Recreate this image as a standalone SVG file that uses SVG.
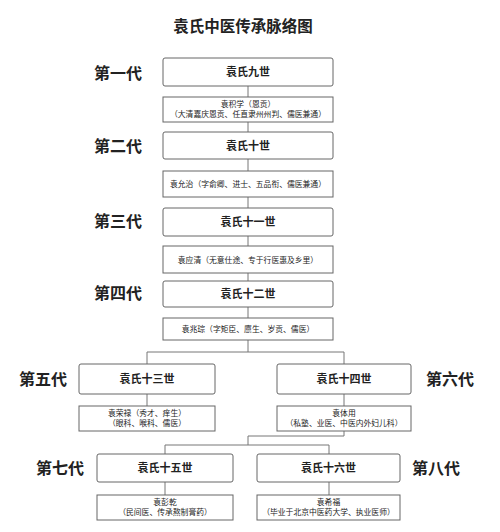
<svg xmlns="http://www.w3.org/2000/svg" width="500" height="532" viewBox="0 0 500 532">
<style>
.bg{fill:#ffffff}
.box{fill:#ffffff;stroke:#666666;stroke-width:1}
.t{font-family:"Liberation Sans","Noto Sans CJK SC",sans-serif;fill:#222222;text-anchor:middle}
.title{font-size:15.5px;font-weight:bold}
.gen{font-size:16px;font-weight:bold}
.name{font-size:11px;font-weight:bold}
.sub{font-size:7.8px}
.ln{fill:none;stroke:#777777;stroke-width:1}
</style>
<rect class="bg" x="0" y="0" width="500" height="532"/>
<text class="t title" x="243" y="32">袁氏中医传承脉络图</text>
<g id="connectors">
<path class="ln" d="M248,86V97M248,122V132M248,159V171M248,197V208M248,236V246M248,273V281M248,307V318M248,340V352M147,352H344M147,352V364M344,352V364M147,394V406M344,394V406M344,431V436H248V445M165,445H329M165,445V454M329,445V454M165,482V495M329,482V495"/>
</g>
<g id="labels">
<text class="t gen" x="118" y="79">第一代</text>
<text class="t gen" x="118" y="152">第二代</text>
<text class="t gen" x="118" y="227">第三代</text>
<text class="t gen" x="118" y="299">第四代</text>
<text class="t gen" x="43" y="385">第五代</text>
<text class="t gen" x="450" y="385">第六代</text>
<text class="t gen" x="60" y="474">第七代</text>
<text class="t gen" x="436" y="474">第八代</text>
</g>
<g id="n9"><rect class="box" x="163" y="58" width="170" height="28" rx="2"/><text class="t name" x="248" y="76">袁氏九世</text></g>
<g id="s9"><rect class="box" x="163" y="97" width="170" height="25"/><text class="t sub" x="248" y="107">袁积学（恩贡）</text><text class="t sub" x="248" y="117">（大清嘉庆恩贡、任直隶州州判、儒医兼通）</text></g>
<g id="n10"><rect class="box" x="163" y="132" width="170" height="27" rx="2"/><text class="t name" x="248" y="149.5">袁氏十世</text></g>
<g id="s10"><rect class="box" x="163" y="171" width="170" height="26"/><text class="t sub" x="248" y="187">袁允治（字俞卿、进士、五品衔、儒医兼通）</text></g>
<g id="n11"><rect class="box" x="163" y="208" width="170" height="28" rx="2"/><text class="t name" x="248" y="226">袁氏十一世</text></g>
<g id="s11"><rect class="box" x="163" y="246" width="170" height="27"/><text class="t sub" x="248" y="262.5">袁应清（无意仕途、专于行医惠及乡里）</text></g>
<g id="n12"><rect class="box" x="163" y="281" width="170" height="26" rx="2"/><text class="t name" x="248" y="298">袁氏十二世</text></g>
<g id="s12"><rect class="box" x="163" y="318" width="170" height="22"/><text class="t sub" x="248" y="332">袁兆琮（字矩臣、廪生、岁贡、儒医）</text></g>
<g id="n13"><rect class="box" x="79" y="364" width="136" height="30" rx="2"/><text class="t name" x="147" y="383">袁氏十三世</text></g>
<g id="s13"><rect class="box" x="79" y="406" width="136" height="25"/><text class="t sub" x="147" y="416">袁荣禄（秀才、痒生）</text><text class="t sub" x="147" y="426">（眼科、喉科、儒医）</text></g>
<g id="n14"><rect class="box" x="277" y="364" width="134" height="30" rx="2"/><text class="t name" x="344" y="383">袁氏十四世</text></g>
<g id="s14"><rect class="box" x="277" y="406" width="134" height="25"/><text class="t sub" x="344" y="416">袁体用</text><text class="t sub" x="344" y="426">（私塾、业医、中医内外妇儿科）</text></g>
<g id="n15"><rect class="box" x="97" y="454" width="136" height="28" rx="2"/><text class="t name" x="165" y="472">袁氏十五世</text></g>
<g id="s15"><rect class="box" x="97" y="495" width="136" height="25"/><text class="t sub" x="165" y="505">袁彭乾</text><text class="t sub" x="165" y="515">（民间医、传承熬制膏药）</text></g>
<g id="n16"><rect class="box" x="257" y="454" width="143" height="28" rx="2"/><text class="t name" x="328.5" y="472">袁氏十六世</text></g>
<g id="s16"><rect class="box" x="257" y="495" width="143" height="25"/><text class="t sub" x="328.5" y="505">袁希福</text><text class="t sub" x="328.5" y="515">（毕业于北京中医药大学、执业医师）</text></g>
</svg>
